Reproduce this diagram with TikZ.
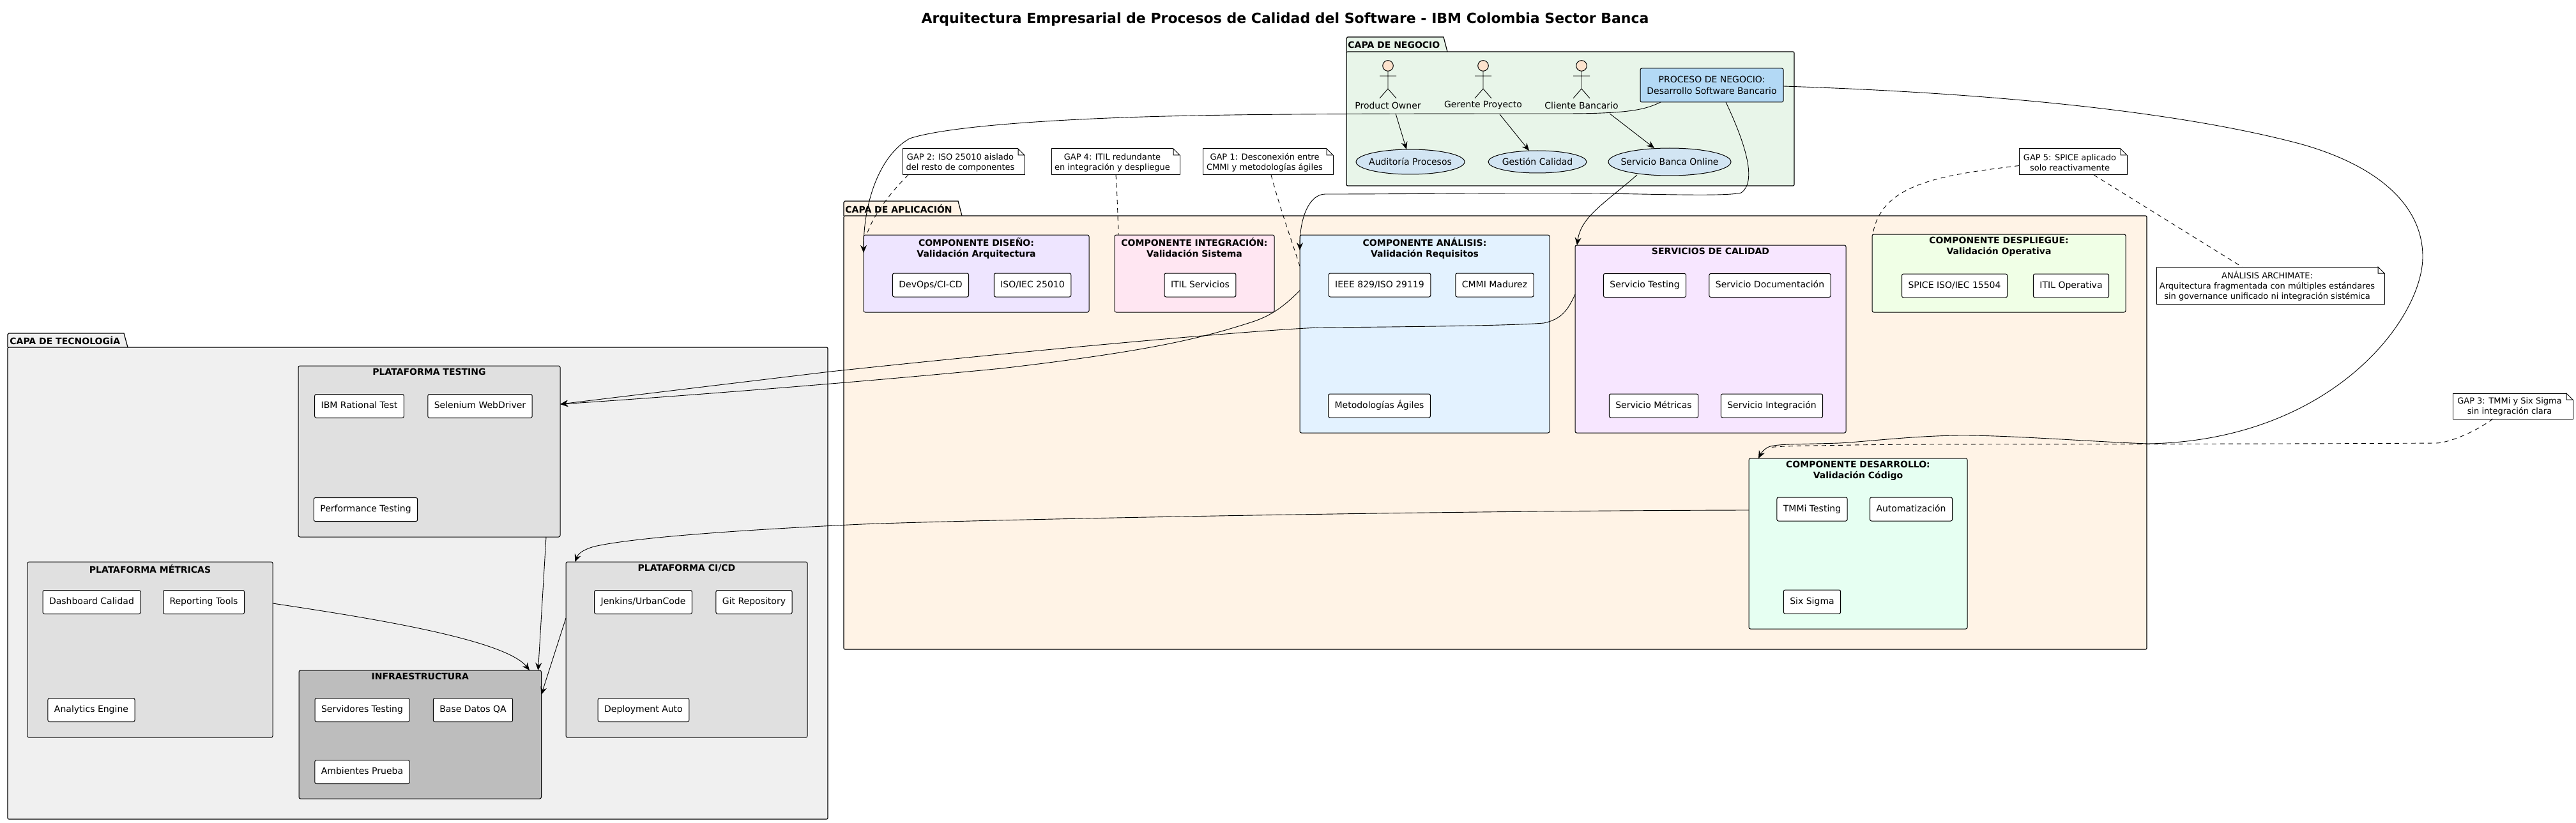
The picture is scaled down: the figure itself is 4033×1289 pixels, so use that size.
\documentclass[tikz,border=0pt]{standalone}
\usepackage{fontspec}
\setmainfont{DejaVu Sans}
\usetikzlibrary{arrows.meta,calc,fit,shapes.geometric}

\definecolor{negociofill}{HTML}{E8F5E9}
\definecolor{aplicacionfill}{HTML}{FFF3E6}
\definecolor{tecnologiafill}{HTML}{F0F0F0}
\definecolor{disenofill}{HTML}{EEE5FF}
\definecolor{integracionfill}{HTML}{FFE6F2}
\definecolor{analisisfill}{HTML}{E3F2FF}
\definecolor{serviciosfill}{HTML}{F7E6FF}
\definecolor{desplieguefill}{HTML}{F0FFE6}
\definecolor{desarrollofill}{HTML}{E6FFF2}
\definecolor{plataformafill}{HTML}{E0E0E0}
\definecolor{infrafill}{HTML}{BDBDBD}
\definecolor{procesofill}{HTML}{B3D9F5}
\definecolor{casofill}{HTML}{D2E5F3}
\definecolor{actorfill}{HTML}{FDE3CD}

\tikzset{
  capabody/.style={draw, line width=.6pt, rounded corners=1pt, inner sep=0pt, outer sep=0pt},
  capatab/.style={draw, line width=.6pt},
  capatitle/.style={anchor=west, inner sep=0pt, font=\fontsize{7}{8.5}\selectfont\bfseries},
  compbox/.style={draw, line width=.5pt, rounded corners=1.25pt, inner sep=0pt, outer sep=0pt},
  comptitle/.style={anchor=north, align=center, inner sep=0pt, yshift=-2pt, font=\fontsize{7}{8.6}\selectfont\bfseries},
  itembox/.style={draw, fill=white, line width=.5pt, rounded corners=1.25pt, inner xsep=5pt, inner ysep=0pt, minimum height=18.5pt, text height=5.2pt, text depth=1.4pt, font=\fontsize{7}{8.5}\selectfont},
  notebox/.style={draw, fill=white, line width=.5pt, inner sep=0pt, outer sep=0pt},
  notetext/.style={align=center, inner sep=0pt, xshift=-2.5pt, yshift=-.5pt, font=\fontsize{6.5}{8}\selectfont},
  casebox/.style={draw, ellipse, fill=casofill, line width=.5pt, inner sep=0pt, outer sep=0pt},
  casetext/.style={inner sep=0pt, font=\fontsize{7}{8.5}\selectfont},
  actorhead/.style={draw, circle, fill=actorfill, line width=.5pt, minimum size=8.3pt, inner sep=0pt},
  actorlabel/.style={inner sep=0pt, font=\fontsize{7}{8.5}\selectfont},
  conn/.style={draw, line width=.45pt, -{Stealth[length=6pt,width=5pt,inset=2pt]}},
  gaplink/.style={draw, line width=.45pt, dash pattern=on 3.5pt off 3pt},
}

\begin{document}
\begin{tikzpicture}[x=.5pt,y=-.5pt]
\useasboundingbox (0,0) rectangle (4033,1289);

\node[inner sep=0pt, font=\fontsize{11}{13}\selectfont\bfseries] (titulo) at (2012,30) {Arquitectura Empresarial de Procesos de Calidad del Software - IBM Colombia Sector Banca};

% capas
\draw[capatab, fill=negociofill] (2108,81) -- (2108,60) -- (2110,58) -- (2260,58) -- (2266,81);
\node[capabody, fill=negociofill, fit={(2108,81) (2809,291)}] (negocio) {};
\node[capatitle] (negociotab) at (2110,70) {CAPA DE NEGOCIO};

\draw[capatab, fill=aplicacionfill] (1321,338) -- (1321,317) -- (1323,315) -- (1500,315) -- (1506,338);
\node[capabody, fill=aplicacionfill, fit={(1321,338) (3361,1017)}] (aplicacion) {};
\node[capatitle] (aplicaciontab) at (1323,327) {CAPA DE APLICACIÓN};

\draw[capatab, fill=tecnologiafill] (12,544) -- (12,524) -- (14,522) -- (194,522) -- (200,544);
\node[capabody, fill=tecnologiafill, fit={(12,544) (1296,1283)}] (tecnologia) {};
\node[capatitle] (tecnologiatab) at (15,533) {CAPA DE TECNOLOGÍA};

% negocio
\foreach \n/\x/\t in {owner/2173/Product Owner, gerente/2322/Gerente Proyecto, cliente/2476/Cliente Bancario}{
  \node[actorhead] (\n head) at (\x,103) {};
  \node[actorlabel] (\n) at (\x,165) {\t};
  \draw[line width=.45pt] (\n head.south) -- (\x,139) -- +(-13,15) (\x,139) -- +(13,15) (\x-13,119) -- (\x+13,119);
}
\node[compbox, fill=procesofill, fit={(2568,107) (2792,160)}] (proceso) {};
\node[align=center, inner sep=0pt, font=\fontsize{7}{8.6}\selectfont] (procesotext) at (proceso.center) {PROCESO DE NEGOCIO:\\Desarrollo Software Bancario};
\node[casebox, minimum width=85pt, minimum height=19.5pt, label={[casetext]center:Auditoría Procesos}] (auditoria) at (2208,253.5) {};
\node[casebox, minimum width=77pt, minimum height=17.5pt, label={[casetext]center:Gestión Calidad}] (gestion) at (2407,253.5) {};
\node[casebox, minimum width=96pt, minimum height=21.5pt, label={[casetext]center:Servicio Banca Online}] (banca) at (2614,253.5) {};

% aplicacion
\node[compbox, fill=disenofill, fit={(1352,368) (1705,489)}] (diseno) {};
\node[comptitle] (disenotitle) at (diseno.north) {COMPONENTE DISEÑO:\\Validación Arquitectura};
\node[itembox] (devops) at (1457,446.5) {DevOps/CI-CD};
\node[itembox] (iso25010) at (1616.5,446.5) {ISO/IEC 25010};

\node[compbox, fill=integracionfill, fit={(1745,368) (1995,489)}] (integracion) {};
\node[comptitle] (integraciontitle) at (integracion.north) {COMPONENTE INTEGRACIÓN:\\Validación Sistema};
\node[itembox] (itilserv) at (1879,446.5) {ITIL Servicios};

\node[compbox, fill=analisisfill, fit={(2035,368) (2426,678)}] (analisis) {};
\node[comptitle] (analisistitle) at (analisis.north) {COMPONENTE ANÁLISIS:\\Validación Requisitos};
\node[itembox] (ieee) at (2160,446.5) {IEEE 829/ISO 29119};
\node[itembox] (cmmi) at (2340,446.5) {CMMI Madurez};
\node[itembox] (agiles) at (2159.5,635.5) {Metodologías Ágiles};

\node[compbox, fill=serviciosfill, fit={(2466,384) (2890,678)}] (servicios) {};
\node[comptitle] (serviciostitle) at (servicios.north) {SERVICIOS DE CALIDAD};
\node[itembox] (stesting) at (2575,447) {Servicio Testing};
\node[itembox] (sdoc) at (2771,447) {Servicio Documentación};
\node[itembox] (smetricas) at (2589,635.5) {Servicio Métricas};
\node[itembox] (sinteg) at (2774,635.5) {Servicio Integración};

\node[compbox, fill=desplieguefill, fit={(2931,367) (3328,489)}] (despliegue) {};
\node[comptitle] (desplieguetitle) at (despliegue.north) {COMPONENTE DESPLIEGUE:\\Validación Operativa};
\node[itembox] (spice) at (3060,447.5) {SPICE ISO/IEC 15504};
\node[itembox] (itilop) at (3242.5,447.5) {ITIL Operativa};

\node[compbox, fill=desarrollofill, fit={(2738,718) (3080,985)}] (desarrollo) {};
\node[comptitle] (desarrollotitle) at (desarrollo.north) {COMPONENTE DESARROLLO:\\Validación Código};
\node[itembox] (tmmi) at (2837,797.5) {TMMi Testing};
\node[itembox] (auto) at (2992,797.5) {Automatización};
\node[itembox] (sixsigma) at (2837,942.5) {Six Sigma};

% tecnologia
\node[compbox, fill=plataformafill, fit={(467,573) (877,841)}] (testing) {};
\node[comptitle] (testingtitle) at (testing.north) {PLATAFORMA TESTING};
\node[itembox] (rational) at (562.5,636) {IBM Rational Test};
\node[itembox] (selenium) at (751.5,636) {Selenium WebDriver};
\node[itembox] (performance) at (572.5,798) {Performance Testing};

\node[compbox, fill=plataformafill, fit={(43,880) (427,1155)}] (metricas) {};
\node[comptitle] (metricastitle) at (metricas.north) {PLATAFORMA MÉTRICAS};
\node[itembox] (dashboard) at (143.5,943) {Dashboard Calidad};
\node[itembox] (reporting) at (319,943) {Reporting Tools};
\node[itembox] (analytics) at (143,1112) {Analytics Engine};

\node[compbox, fill=plataformafill, fit={(886,880) (1264,1155)}] (cicd) {};
\node[comptitle] (cicdtitle) at (cicd.north) {PLATAFORMA CI/CD};
\node[itembox] (jenkins) at (1007,943) {Jenkins/UrbanCode};
\node[itembox] (git) at (1180.5,943) {Git Repository};
\node[itembox] (deployment) at (1007.5,1112) {Deployment Auto};

\node[compbox, fill=infrafill, fit={(468,1050) (847.5,1251)}] (infra) {};
\node[comptitle] (infratitle) at (infra.north) {INFRAESTRUCTURA};
\node[itembox] (servidores) at (567,1112) {Servidores Testing};
\node[itembox] (basedatos) at (740.5,1112) {Base Datos QA};
\node[itembox] (ambientes) at (567,1209) {Ambientes Prueba};

% notas
\node[notebox, minimum width=95.5pt, minimum height=20.5pt, label={[notetext]center:{GAP 2: ISO 25010 aislado\\del resto de componentes}}] (gap2) at (1508.5,253.5) {};
\node[notebox, minimum width=100.5pt, minimum height=20.5pt, label={[notetext]center:{GAP 4: ITIL redundante\\en integración y despliegue}}] (gap4) at (1746.5,253.5) {};
\node[notebox, minimum width=102pt, minimum height=20.5pt, label={[notetext]center:{GAP 1: Desconexión entre\\CMMI y metodologías ágiles}}] (gap1) at (1985,253.5) {};
\node[notebox, minimum width=84.5pt, minimum height=20.5pt, label={[notetext]center:{GAP 5: SPICE aplicado\\solo reactivamente}}] (gap5) at (3245.5,253.5) {};
\node[notebox, minimum width=94pt, minimum height=20pt, label={[notetext]center:{GAP 3: TMMi y Six Sigma\\sin integración clara}}] (gap3) at (3934,636) {};
\node[notebox, minimum width=178.5pt, minimum height=29pt, label={[notetext]center:{ANÁLISIS ARCHIMATE:\\Arquitectura fragmentada con múltiples estándares\\sin governance unificado ni integración sistémica}}] (archimate) at (3554.5,447) {};
\foreach \n in {gap1,gap2,gap3,gap4,gap5,archimate}{
  \fill[white] ($(\n.north east)+(-10,-1)$) rectangle ($(\n.north east)+(1,10)$);
  \draw[line width=.5pt] ($(\n.north east)+(-10,0)$) -- ($(\n.north east)+(0,10)$) -- ($(\n.north east)+(-10,10)$) -- cycle;
}

% conectores
\draw[conn] ($(owner.south)+(12,7)$) -- ($(auditoria.north)+(-6,0)$);
\draw[conn] ($(gerente.south)+(26,7)$) -- ($(gestion.north)+(-13,0)$);
\draw[conn] ($(cliente.south)+(44,7)$) -- ($(banca.north)+(-24,0)$);

\draw[conn] ($(proceso.south west)+(32,0)$) .. controls (2575,172) and (2550,178) .. (2448,178)
  .. controls (2300,178) and (2000,178) .. (1874,181)
  .. controls (1700,184) and (1490,195) .. (1424,217)
  .. controls (1375,245) and (1352,320) .. ($(diseno.north west)+(0,28)$);
\draw[conn] ($(proceso.south west)+(134,0)$) .. controls (2735,230) and (2750,285) .. (2726,302)
  .. controls (2700,308) and (2600,304) .. (2500,303)
  .. controls (2350,302) and (2200,304) .. (2075,304)
  .. controls (2050,304) and (2035,340) .. ($(analisis.north west)+(0,24)$);
\draw[conn] ($(banca.south)+(-51,-1)$) .. controls (2510,320) and (2475,340) .. ($(servicios.north west)+(3,0)$);
\draw[conn] ($(proceso.north east)+(0,28)$) .. controls (3100,145) and (3400,172) .. (3600,225)
  .. controls (3720,258) and (3793,320) .. (3793,402)
  .. controls (3793,500) and (3650,690) .. (3363,695)
  .. controls (3280,692) and (3150,682) .. (3074,682)
  .. controls (3000,682) and (2920,692) .. (2879,694)
  .. controls (2820,696) and (2780,695) .. (2769,700)
  .. controls (2762,703) and (2757,710) .. ($(desarrollo.north west)+(15,0)$);

\draw[conn] ($(analisis.north west)+(0,87)$) .. controls (2010,480) and (1990,495) .. (1958,505)
  .. controls (1880,530) and (1800,550) .. (1568,577)
  .. controls (1300,603) and (1000,625) .. ($(testing.north east)+(0,60)$);
\draw[conn] ($(servicios.north west)+(0,77)$) .. controls (2455,485) and (2445,500) .. (2417,506)
  .. controls (2370,510) and (2200,512) .. (2065,513)
  .. controls (1950,518) and (1600,550) .. (1300,582)
  .. controls (1150,600) and (1000,618) .. ($(testing.north east)+(0,60)$);
\draw[conn] ($(desarrollo.north west)+(0,81)$) .. controls (2200,800) and (1500,815) .. (1350,821)
  .. controls (1200,828) and (1000,840) .. (930,856)
  .. controls (910,862) and (905,868) .. ($(cicd.north west)+(14,0)$);
\draw[conn] ($(testing.south east)+(-22,0)$) -- ($(infra.north east)+(-5,0)$);
\draw[conn] ($(metricas.north east)+(0,65)$) .. controls (560,965) and (790,1000) .. ($(infra.north west)+(361,0)$);
\draw[conn] ($(cicd.north west)+(0,88)$) -- ($(infra.north east)+(0,38)$);

\draw[gaplink] ($(gap2.south west)+(9,0)$) .. controls (1395,300) and (1365,340) .. ($(diseno.north west)+(5,0)$);
\draw[gaplink] ($(gap4.south west)+(101,0)$) .. controls (1749,300) and (1750,340) .. ($(integracion.north west)+(6,0)$);
\draw[gaplink] ($(gap1.south west)+(107,0)$) .. controls (2005,330) and (2025,385) .. ($(analisis.north west)+(0,49)$);
\draw[gaplink] ($(gap5.west)+(0,6)$) .. controls (3030,275) and (2945,290) .. ($(despliegue.north west)+(1,0)$);
\draw[gaplink] ($(gap5.south west)+(117,0)$) -- ($(archimate.north west)+(134,0)$);
\coordinate (gap3end) at ($(desarrollo.north west)+(30,-17)$);
\draw[gaplink] ($(gap3.south west)+(63,0)$) .. controls (3870,680) and (3830,694) .. (3814,694)
  .. controls (3500,696) and (3000,695) .. (2902,697)
  .. controls (2850,698) and (2790,698) .. (gap3end);
\end{tikzpicture}
\end{document}
